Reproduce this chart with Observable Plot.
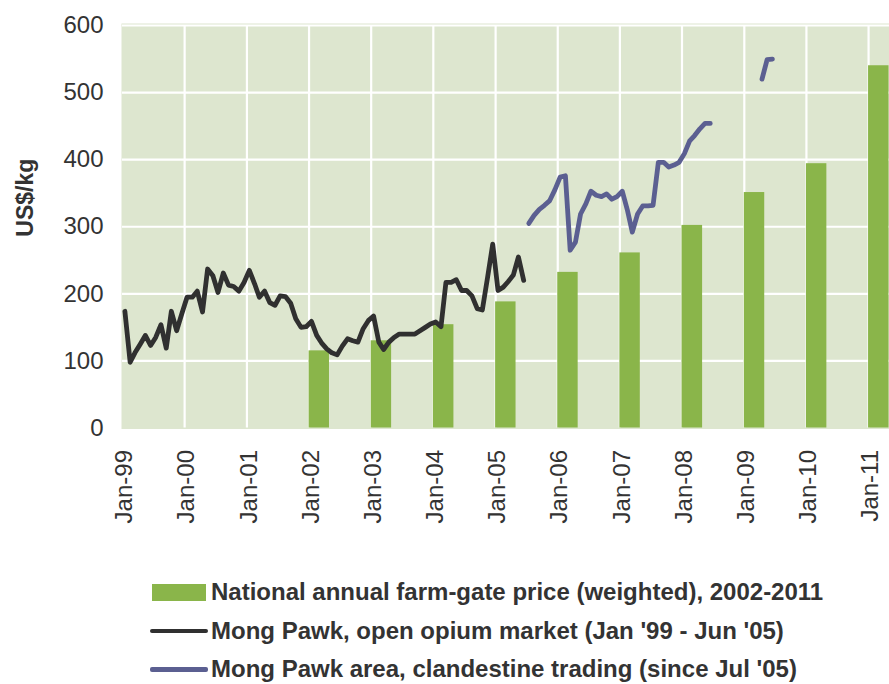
<!DOCTYPE html>
<html>
<head>
<meta charset="utf-8">
<script src="https://cdn.jsdelivr.net/npm/d3@7"></script>
<script src="https://cdn.jsdelivr.net/npm/@observablehq/plot@0.6"></script>
<style>
  html, body { margin: 0; padding: 0; background: #ffffff; }
  body { position: relative; width: 889px; height: 684px; overflow: hidden; font-family: "Liberation Sans", Arial, sans-serif; }
  #chart { position: absolute; left: 0; top: 0; }
  #legend { position: absolute; left: 150px; top: 573px; font: bold 24px "Liberation Sans", Arial, sans-serif; color: #333333; }
  .row { display: flex; align-items: center; height: 38.5px; white-space: nowrap; }
  .sw { width: 58px; display: flex; align-items: center; justify-content: center; }
  .box { width: 54px; height: 17px; background: #8ab54a; }
  .ln { width: 58px; height: 4.5px; border-radius: 2px; }
  .lab { margin-left: 3px; }
</style>
</head>
<body>
<div id="chart"></div>
<div id="legend"></div>
<script>
// ---- Data (US$/kg) ----
const barYears = [2002, 2003, 2004, 2005, 2006, 2007, 2008, 2009, 2010, 2011];
const barValues = [115, 130, 154, 188, 232, 261, 302, 351, 394, 540];

// Mong Pawk, open opium market, monthly from Jan 1999 to Jun 2005
const openMarketStart = "1999-01";
const openMarketValues = [
  174, 98, 112, 125, 138, 123, 135, 154, 119, 174, 145, 170,   // 1999
  195, 195, 204, 173, 237, 227, 202, 231, 213, 211, 204, 217,  // 2000
  235, 215, 195, 204, 187, 183, 197, 196, 186, 163, 150, 151,  // 2001
  159, 138, 127, 118, 112, 109, 122, 133, 130, 128, 148, 160,  // 2002
  167, 128, 117, 128, 135, 140, 140, 140, 140, 145, 150, 155,  // 2003
  158, 151, 217, 217, 221, 205, 205, 197, 178, 176, 225, 274,  // 2004
  205, 210, 218, 228, 255, 220                                 // 2005
];

// Mong Pawk area, clandestine trading, monthly from Jul 2005
const clandestineStart = "2005-07";
const clandestineValues = [
  305, 317, 326, 332, 339, 355,                                // 2005
  374, 376, 265, 277, 319, 334, 353, 347, 345, 349, 341, 345,  // 2006
  353, 324, 292, 319, 331, 331, 332, 396, 396, 389, 392, 396,  // 2007
  409, 428, 436, 446, 454, 454                                 // 2008
];
const clandestineLateStart = "2009-04";
const clandestineLateValues = [520, 549, 550];

const yTicks = [0, 100, 200, 300, 400, 500, 600];
const legendLabels = [
  "National annual farm-gate price (weighted), 2002-2011",
  "Mong Pawk, open opium market (Jan '99 - Jun '05)",
  "Mong Pawk area, clandestine trading (since Jul '05)"
];

// ---- Build tables ----
const parseMonth = d3.utcParse("%Y-%m");
function monthly(start, values, seg) {
  const s = parseMonth(start);
  return values.map((v, i) => ({
    date: d3.utcDay.offset(d3.utcMonth.offset(s, i), 14),
    value: v,
    seg
  }));
}
const openData = monthly(openMarketStart, openMarketValues, "a");
const clandData = monthly(clandestineStart, clandestineValues, "a")
  .concat(monthly(clandestineLateStart, clandestineLateValues, "b"));
const bars = barYears.map((y, i) => ({
  start: new Date(Date.UTC(y, 0, 1)),
  end: d3.utcMonth.offset(new Date(Date.UTC(y, 0, 1)), 4),
  value: barValues[i]
}));

const xStart = new Date(Date.UTC(1999, 0, 1));
const xEnd = new Date(Date.UTC(2011, 4, 4));
const yearTicks = d3.utcYear.range(xStart, new Date(Date.UTC(2011, 1, 1)));
const gridYears = yearTicks.slice(1);

const colors = { bg: "#dde6cf", bar: "#8ab54a", black: "#303030", blue: "#5b5f91" };

const chart = Plot.plot({
  width: 889,
  height: 560,
  marginLeft: 122,
  marginRight: 0,
  marginTop: 25,
  marginBottom: 132.5,
  style: { fontFamily: "'Liberation Sans', Arial, sans-serif", fontSize: "24px", color: "#333333", background: "transparent", overflow: "visible" },
  x: { type: "utc", domain: [xStart, xEnd] },
  y: { domain: [0, 600] },
  marks: [
    Plot.frame({ fill: colors.bg, stroke: null, insetTop: -2, insetBottom: -1, insetLeft: -1 }),
    Plot.gridY(yTicks.slice(1), { stroke: "#ffffff", strokeOpacity: 1, strokeWidth: 2.2 }),
    Plot.gridX(gridYears, { stroke: "#ffffff", strokeOpacity: 1, strokeWidth: 2.2 }),
    Plot.rectY(bars, { x1: "start", x2: "end", y: "value", fill: colors.bar }),
    Plot.line(openData, { x: "date", y: "value", z: "seg", stroke: colors.black, strokeWidth: 4.8, strokeLinejoin: "round", strokeLinecap: "round" }),
    Plot.line(clandData, { x: "date", y: "value", z: "seg", stroke: colors.blue, strokeWidth: 4.8, strokeLinejoin: "round", strokeLinecap: "round" }),
    Plot.axisY(yTicks, { tickSize: 0, tickPadding: 19, label: null, fontSize: 24 }),
    Plot.axisX(yearTicks, { tickSize: 0, tickPadding: 22, tickRotate: -90, tickFormat: d3.utcFormat("%b-%y"), label: null, fontSize: 24, dx: 2 }),
    Plot.text(["US$/kg"], { frameAnchor: "left", text: d => d, rotate: -90, textAnchor: "middle", dx: -97, dy: -29, fontWeight: "bold", fontSize: 23, fill: "#333333" })
  ]
});
document.getElementById("chart").appendChild(chart);

// ---- Legend ----
const legend = d3.select("#legend");
const swatches = [
  sel => sel.append("div").attr("class", "box"),
  sel => sel.append("div").attr("class", "ln").style("background", colors.black),
  sel => sel.append("div").attr("class", "ln").style("background", colors.blue)
];
legendLabels.forEach((t, i) => {
  const row = legend.append("div").attr("class", "row");
  swatches[i](row.append("div").attr("class", "sw"));
  row.append("div").attr("class", "lab").text(t);
});
</script>
</body>
</html>
